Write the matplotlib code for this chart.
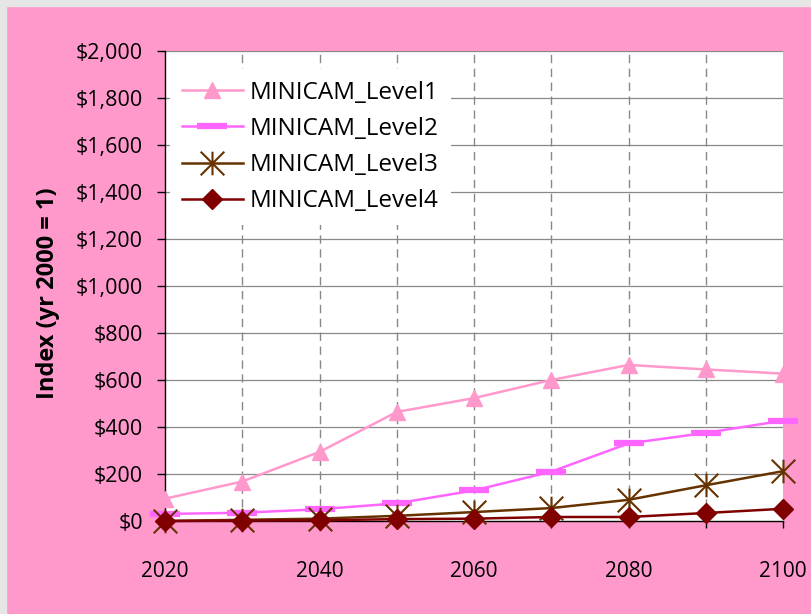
import matplotlib
matplotlib.use("Agg")
import matplotlib.pyplot as plt
from matplotlib.path import Path
from matplotlib.patches import Rectangle

plt.rcParams['font.family'] = ['Open Sans', 'DejaVu Sans']

#------------ DATA -------------------
years = [2020, 2030, 2040, 2050, 2060, 2070, 2080, 2090, 2100]
level1 = [95, 168, 294, 464, 523, 600, 664, 645, 627]
level2 = [30, 35, 50, 75, 130, 210, 330, 375, 427]
level3 = [0, 5, 10, 22, 38, 55, 90, 152, 212]
level4 = [0, 2, 3, 8, 10, 17, 17, 34, 52]
names = ['MINICAM_Level1', 'MINICAM_Level2', 'MINICAM_Level3', 'MINICAM_Level4']
yticks = list(range(0, 2001, 200))
xlabels = ['2020', '', '2040', '', '2060', '', '2080', '', '2100']

pink = '#FF99CC'

# excel style star: X plus vertical bar
star = Path([(-1, -1), (1, 1), (-1, 1), (1, -1), (0, -1), (0, 1)],
            [Path.MOVETO, Path.LINETO, Path.MOVETO, Path.LINETO, Path.MOVETO, Path.LINETO])

fig = plt.figure(figsize=(8.11, 6.14), dpi=100, facecolor=pink)
# slide background strips
fig.patches.append(Rectangle((0, 0.99), 1, 0.01, transform=fig.transFigure, color='#E6E6E6', zorder=0))
fig.patches.append(Rectangle((0, 0), 0.0075, 1, transform=fig.transFigure, color='#E6E6E6', zorder=0))

ax = fig.add_axes([165/811, 93/614, 618/811, 470/614])
ax.set_facecolor('white')

ax.plot(years, level1, color=pink, lw=1.8, marker='^', ms=12, mec=pink, label=names[0], clip_on=False, zorder=3)
ax.plot(years, level2, color='#FF66FF', lw=1.8, marker='_', ms=22, mew=4.5, label=names[1], clip_on=False, zorder=3)
ax.plot(years, level3, color='#663300', lw=1.8, marker=star, ms=17, mew=1.5, label=names[2], clip_on=False, zorder=3)
ax.plot(years, level4, color='#800000', lw=1.8, marker='D', ms=10, label=names[3], clip_on=False, zorder=4)

ax.set_xlim(2020, 2100)
ax.set_ylim(0, 2000)
ax.set_yticks(yticks)
ax.set_yticklabels(['${:,}'.format(v) for v in yticks])
ax.set_xticks(years)
ax.set_xticklabels(xlabels)
ax.tick_params(axis='y', direction='out', length=6, width=1, pad=10, labelsize=15.5)
ax.tick_params(axis='x', direction='out', length=5, width=1, pad=24, labelsize=15)

for v in yticks[1:]:
    ax.axhline(v, color='#888888', lw=0.9, zorder=1)
for x in years[1:-1]:
    ax.axvline(x, color='#888888', lw=1, ls=(0, (6, 4)), zorder=1)

ax.spines['top'].set_visible(False)
ax.spines['right'].set_visible(False)
ax.spines['left'].set_linewidth(1)
ax.spines['bottom'].set_linewidth(1)

ax.set_ylabel('Index (yr 2000 = 1)', fontsize=17, fontweight='bold')
ax.yaxis.set_label_coords(-0.17, 0.485)

leg = ax.legend(loc='upper left', bbox_to_anchor=(0.0, 0.973), frameon=True, fancybox=False,
                fontsize=17.5, handlelength=2.5, handletextpad=0.3, labelspacing=0.5,
                borderpad=0.5, borderaxespad=0.2)
leg.get_frame().set_facecolor('white')
leg.get_frame().set_edgecolor('none')
leg.get_frame().set_alpha(1)
leg.set_zorder(5)

fig.savefig('out.png', dpi=100, facecolor=fig.get_facecolor())
